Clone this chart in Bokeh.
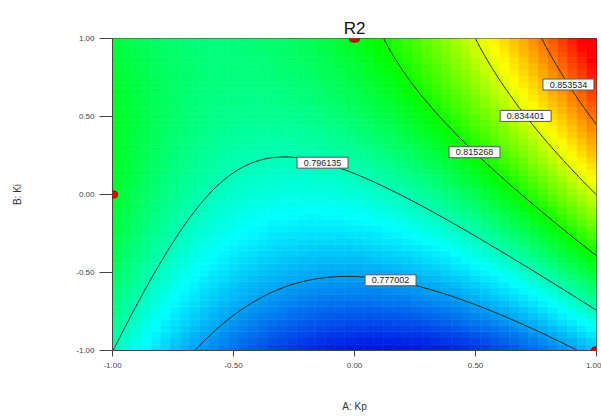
import numpy as np
from bokeh.plotting import figure
from bokeh.models import ColumnDataSource, FixedTicker, PrintfTickFormatter, Label
from bokeh.transform import linear_cmap
from bokeh.core.properties import value
from bokeh.embed import file_html
from bokeh.resources import INLINE

# ---- data (coded units) -------------------------------------------------
# quadratic response-surface model for R2, terms: b0, A, B, AB, A^2, B^2
coef_terms = ["b0", "A", "B", "AB", "A2", "B2"]
coef_values = [0.7928, 0.01223, 0.02595, 0.01998, 0.0295, -0.0078]
contour_levels = [0.777002, 0.796135, 0.815268, 0.834401, 0.853534]
contour_labels = ["0.777002", "0.796135", "0.815268", "0.834401", "0.853534"]
label_kp = [0.149, -0.132, 0.496, 0.707, 0.884]   # A position of each contour label
response_low = 0.757869
response_high = 0.872667
design_kp = [0.0, -1.0, 1.0]
design_ki = [1.0, 0.0, -1.0]
tick_values = [-1.0, -0.5, 0.0, 0.5, 1.0]
grid_cells = 50

b0, b1, b2, b12, b11, b22 = coef_values


def model(a, b):
    return b0 + b1 * a + b2 * b + b12 * a * b + b11 * a * a + b22 * b * b


def solve_b(a, level):
    qa = b22
    qb = b2 + b12 * a
    qc = b0 + b1 * a + b11 * a * a - level
    disc = np.sqrt(qb * qb - 4 * qa * qc)
    for r in ((-qb + disc) / (2 * qa), (-qb - disc) / (2 * qa)):
        if -1 <= r <= 1:
            return r
    return 0.0


# palette: blue -> cyan -> green -> yellow -> red
anchor_pos = [0.0, 0.27, 0.49, 0.70, 0.95, 1.0]
anchor_rgb = [(0, 10, 228), (0, 255, 255), (0, 255, 0), (255, 255, 0), (255, 0, 0), (255, 0, 0)]
tt = np.linspace(0, 1, 256)
palette = []
for t in tt:
    r = np.interp(t, anchor_pos, [c[0] for c in anchor_rgb])
    g = np.interp(t, anchor_pos, [c[1] for c in anchor_rgb])
    bl = np.interp(t, anchor_pos, [c[2] for c in anchor_rgb])
    palette.append("#%02x%02x%02x" % (int(round(r)), int(round(g)), int(round(bl))))

W, H = 601, 416
FL, FR, FT, FB = 112, 5, 38, 66

p = figure(width=W, height=H, x_range=(-1, 1), y_range=(-1, 1),
           output_backend="svg", toolbar_location=None,
           min_border_left=FL, min_border_right=FR,
           min_border_top=FT, min_border_bottom=FB,
           background_fill_color="white", border_fill_color="white")
p.grid.visible = False
p.outline_line_color = "#333333"
p.outline_line_width = 1

# heat-map cells
step = 2.0 / grid_cells
centers = -1 + step * (np.arange(grid_cells) + 0.5)
CX, CY = np.meshgrid(centers, centers)
cells = ColumnDataSource(dict(x=CX.ravel(), y=CY.ravel(), z=model(CX, CY).ravel()))
cmap = linear_cmap("z", palette, response_low, response_high)
p.rect(x="x", y="y", width=step, height=step, source=cells,
       fill_color=cmap, line_color=cmap, line_width=0.6)

# contour lines
fine = np.linspace(-1, 1, 241)
XX, YY = np.meshgrid(fine, fine)
p.contour(x=XX, y=YY, z=model(XX, YY), levels=contour_levels,
          line_color="#1a2a1a", line_width=1)

# contour labels
lab_y = [solve_b(a, lv) for a, lv in zip(label_kp, contour_levels)]
lab_src = ColumnDataSource(dict(x=label_kp, y=lab_y, t=contour_labels))
p.rect(x="x", y="y", width=51, height=11, width_units="screen", height_units="screen",
       source=lab_src, fill_color="white", line_color="#555555", line_width=1)
p.text(x="x", y="y", text="t", source=lab_src, text_align="center",
       text_baseline="middle", text_font=value("Liberation Sans"),
       text_font_size="9px", text_color="#222222")

# design points (labels with rounded red boxes, not clipped by the frame)
for dx, dy in zip(design_kp, design_ki):
    p.add_layout(Label(x=dx, y=dy, text=" ", text_font_size="1px",
                       text_align="center", text_baseline="middle",
                       background_fill_color="#e00000", background_fill_alpha=1.0,
                       border_line_color="#a00000", border_line_width=1,
                       padding=dict(left=5, right=5, top=3, bottom=3),
                       border_radius=4))

# axes
for ax in (p.xaxis[0], p.yaxis[0]):
    ax.ticker = FixedTicker(ticks=tick_values)
    ax.formatter = PrintfTickFormatter(format="%.2f")
    ax.minor_tick_line_color = None
    ax.major_tick_in = 0
    ax.major_label_text_font = "Liberation Sans"
    ax.major_label_text_font_size = "8px"
    ax.major_label_text_color = "#444444"
    ax.axis_line_color = "#444444"
    ax.major_tick_line_color = "#444444"
    ax.axis_label_text_font = "Liberation Sans"
    ax.axis_label_text_font_style = "normal"
    ax.axis_label_text_font_size = "10px"
    ax.axis_label_text_color = "#333333"

p.xaxis.axis_label = "A: Kp"
p.xaxis.major_tick_out = 6
p.xaxis.major_label_standoff = 6
p.xaxis.axis_label_standoff = 30

p.yaxis.axis_label = "B: Ki"
p.yaxis.major_tick_out = 13
p.yaxis.major_label_standoff = 5
p.yaxis.axis_label_standoff = 50

p.title.text = "R2"
p.title.align = "center"
p.title.text_font = "Liberation Sans"
p.title.text_font_style = "normal"
p.title.text_font_size = "17px"
p.title.text_color = "#111111"
p.title.standoff = 2

open("out.html", "w").write(file_html(p, INLINE))
